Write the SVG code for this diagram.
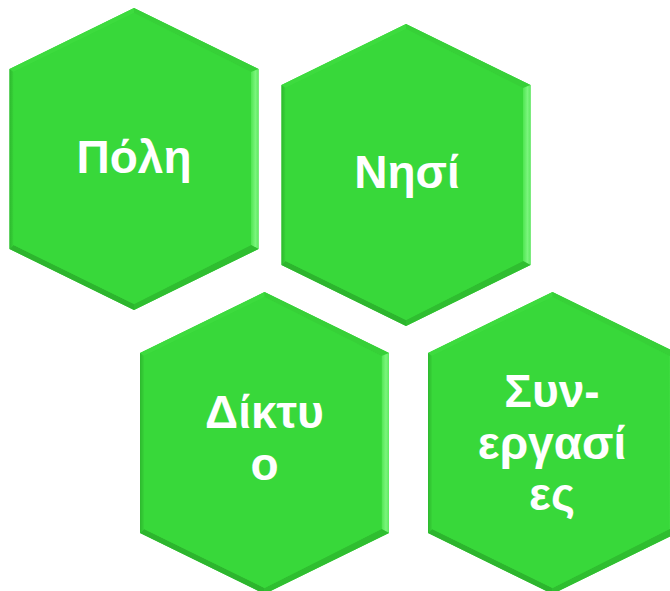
<svg xmlns="http://www.w3.org/2000/svg" width="670" height="591" viewBox="0 0 670 591">
<style>
.lbl{font-family:"Liberation Sans",Arial,sans-serif;font-weight:bold;font-size:46px;fill:#ffffff;text-anchor:middle}
</style>
<defs>
<linearGradient id="gR" x1="0" y1="0" x2="1" y2="0">
<stop offset="0" stop-color="#4FE651"/>
<stop offset="0.6" stop-color="#7AF57C"/>
<stop offset="1" stop-color="#5EEA60"/>
</linearGradient>
<linearGradient id="gL" x1="0" y1="0" x2="1" y2="0">
<stop offset="0" stop-color="#2DB82E"/>
<stop offset="1" stop-color="#37D238"/>
</linearGradient>
<g id="hex">
<polygon points="0,-151 124.5,-90 124.5,90 0,151 -124.5,90 -124.5,-90" fill="#38D83A"/>
<polygon points="-124.5,-90 0,-151 0,-146 -120.5,-87" fill="#3DDB3E"/>
<polygon points="0,-151 124.5,-90 117,-87 0,-146" fill="#37D038"/>
<polygon points="124.5,-90 124.5,90 117,86 117,-87" fill="url(#gR)"/>
<polygon points="124.5,90 0,151 0,145 117,86" fill="#2FBE30"/>
<polygon points="0,151 -124.5,90 -120.5,86 0,145" fill="#2DB52E"/>
<polygon points="-124.5,90 -124.5,-90 -120.5,-87 -120.5,86" fill="url(#gL)"/>
<polygon points="0,-146 117,-87 117,86 0,145 -120.5,86 -120.5,-87" fill="#38D83A"/>
</g>
</defs>
<g id="connectors"></g>
<g id="node-poli">
<use href="#hex" transform="translate(134,159)"/>
<text class="lbl" x="134" y="173">Πόλη</text>
</g>
<g id="node-nisi">
<use href="#hex" transform="translate(406,175)"/>
<text class="lbl" x="407" y="188">Νησί</text>
</g>
<g id="node-diktyo">
<use href="#hex" transform="translate(264.5,443)"/>
<text class="lbl" x="264.5" y="428">Δίκτυ</text>
<text class="lbl" x="264.5" y="480">ο</text>
</g>
<g id="node-synergasies">
<use href="#hex" transform="translate(552.5,443)"/>
<text class="lbl" x="552" y="407">Συν-</text>
<text class="lbl" x="552" y="459">εργασί</text>
<text class="lbl" x="552" y="510">ες</text>
</g>
</svg>
